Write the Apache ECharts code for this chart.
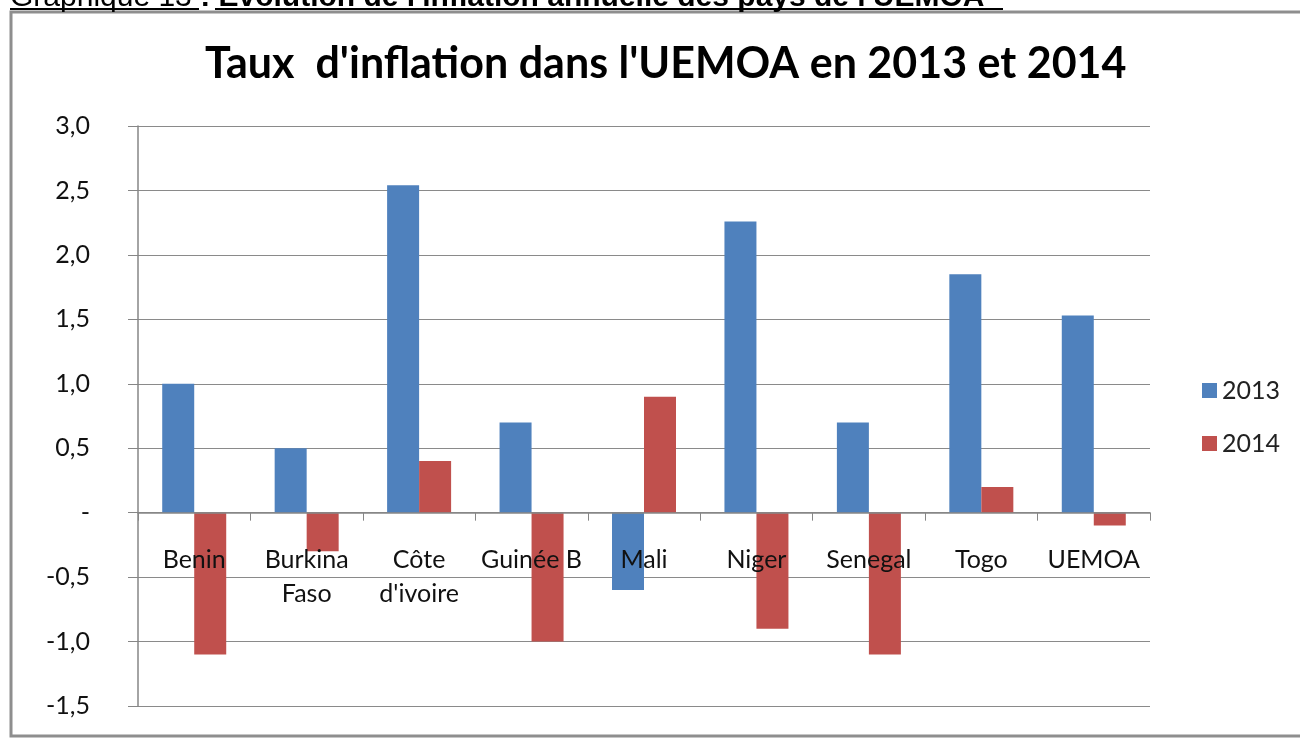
<!DOCTYPE html>
<html>
<head>
<meta charset="utf-8">
<script src="https://cdn.jsdelivr.net/npm/echarts@6/dist/echarts.min.js"></script>
<style>
  html, body { margin: 0; padding: 0; background: #fff; }
  #chart { width: 1300px; height: 738px; }
</style>
</head>
<body>
<div id="chart"></div>
<script>
// données
const pays = ['Benin', 'Burkina\nFaso', 'Côte\nd\'ivoire', 'Guinée B', 'Mali', 'Niger', 'Senegal', 'Togo', 'UEMOA'];
const inflation2013 = [1.0, 0.5, 2.54, 0.7, -0.6, 2.26, 0.7, 1.85, 1.53];
const inflation2014 = [-1.1, -0.3, 0.4, -1.0, 0.9, -0.9, -1.1, 0.2, -0.1];
const annees = ['2013', '2014'];

const chart = echarts.init(document.getElementById('chart'));
const font = 'Lato, "Open Sans", sans-serif';

const option = {
  animation: false,
  backgroundColor: '#fff',
  title: {
    text: 'Taux  d\'inflation dans l\'UEMOA en 2013 et 2014',
    left: 200,
    top: 38,
    textStyle: { fontFamily: font, fontSize: 43, fontWeight: 'bold', color: '#000' }
  },
  legend: {
    orient: 'vertical',
    left: 1197,
    top: 373,
    itemWidth: 15,
    itemHeight: 15,
    itemGap: 28,
    icon: 'rect',
    data: annees,
    textStyle: { fontFamily: font, fontSize: 25, color: '#222' }
  },
  grid: { left: 138, right: 150, top: 126, bottom: 32, outerBoundsMode: 'none' },
  xAxis: {
    type: 'category',
    data: pays,
    z: 5,
    axisLine: { onZero: true, lineStyle: { color: '#868686', width: 1.5 } },
    axisTick: { show: true, length: 8, lineStyle: { color: '#868686' } },
    // les libellés sont placés juste sous la ligne du zéro, par-dessus les barres
    axisLabel: { margin: -163, fontFamily: font, fontSize: 25, color: '#111', lineHeight: 34, interval: 0 }
  },
  yAxis: {
    type: 'value',
    min: -1.5,
    max: 3,
    interval: 0.5,
    axisLine: { show: true, lineStyle: { color: '#868686', width: 1.5 } },
    axisTick: { show: true, length: 10, lineStyle: { color: '#868686' } },
    splitLine: { lineStyle: { color: '#8a8a8a', width: 1.2 } },
    axisLabel: {
      margin: 48,
      fontFamily: font,
      fontSize: 25,
      color: '#111',
      formatter: v => Math.abs(v) < 1e-9 ? '-' : v.toFixed(1).replace('.', ',')
    }
  },
  series: [
    {
      name: annees[0],
      type: 'bar',
      data: inflation2013,
      barWidth: 32,
      barGap: '0%',
      itemStyle: { color: '#4F81BD' }
    },
    {
      name: annees[1],
      type: 'bar',
      data: inflation2014,
      barWidth: 32,
      itemStyle: { color: '#C0504D' }
    }
  ],
  graphic: [
    {
      type: 'rect',
      shape: { x: 11, y: 12, width: 1300, height: 724 },
      style: { fill: 'none', stroke: '#8e8e8e', lineWidth: 3 },
      silent: true
    },
    {
      type: 'text',
      x: 10,
      y: 13,
      style: {
        text: '{n|Graphique 13} {b|: Evolution de l\'inflation annuelle des pays de l\'UEMOA}',
        verticalAlign: 'bottom',
        rich: {
          n: { fontFamily: 'Liberation Sans, Arial', fontSize: 30, fill: '#000' },
          b: { fontFamily: 'Liberation Sans, Arial', fontSize: 30, fontWeight: 'bold', fill: '#000' }
        },
        fontFamily: 'Liberation Sans, Arial',
        fontSize: 30
      }
    },
    {
      type: 'line',
      shape: { x1: 10, y1: 9, x2: 199, y2: 9 },
      style: { stroke: '#000', lineWidth: 2 }
    },
    {
      type: 'line',
      shape: { x1: 215, y1: 9, x2: 1003, y2: 9 },
      style: { stroke: '#000', lineWidth: 2 }
    }
  ]
};

chart.setOption(option);
</script>
</body>
</html>
